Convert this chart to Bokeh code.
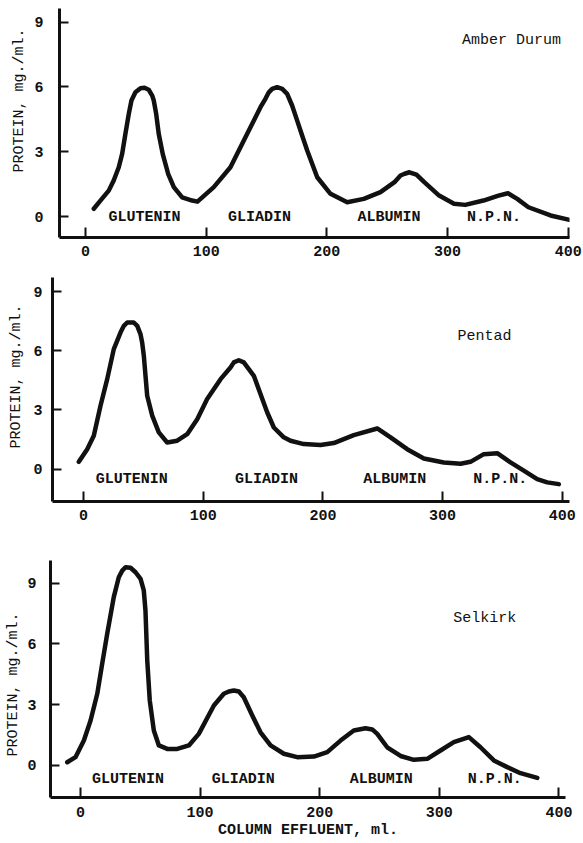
from bokeh.plotting import figure
from bokeh.layouts import column
from bokeh.models import FixedTicker, Range1d, Title
from bokeh.core.properties import value
from bokeh.embed import file_html
from bokeh.resources import INLINE

FONT = "Liberation Mono"

# ---- data ----
x_ticks = [0, 100, 200, 300, 400]
y_ticks = [0, 3, 6, 9]
fractions = ["GLUTENIN", "GLIADIN", "ALBUMIN", "N.P.N."]

amber_name = "Amber Durum"
amber_x = [6.9, 12.4, 19.3, 23.4, 27.6, 30.4, 33.1, 35.9, 38.1, 41.4, 45.6, 48.9, 52.4, 55.3,
           56.6, 58.6, 60.7, 64.0, 68.5, 73.2, 80.1, 88.4, 92.8,
           106.3, 120.1, 134.0, 145.0, 149.1, 151.9, 154.7, 158.8, 163.0, 167.1, 171.2, 175.4,
           179.5, 183.7, 192.0, 203.0, 216.8, 230.6, 244.4, 256.0, 261.0, 264.4, 268.4, 274.2,
           280.7, 293.0, 305.3, 314.6, 329.7, 342.2, 350.0, 357.7, 367.0, 385.3, 403.9]
amber_y = [0.36, 0.74, 1.20, 1.67, 2.28, 2.90, 3.83, 4.75, 5.37, 5.75, 5.94, 5.96, 5.87, 5.60,
           5.37, 4.75, 3.83, 2.90, 1.98, 1.36, 0.89, 0.74, 0.69,
           1.36, 2.28, 3.83, 5.06, 5.45, 5.75, 5.91, 5.99, 5.91, 5.68, 5.14, 4.44,
           3.75, 3.06, 1.82, 1.05, 0.66, 0.82, 1.13, 1.59, 1.90, 1.98, 2.05, 1.94,
           1.59, 0.97, 0.59, 0.54, 0.74, 0.97, 1.08, 0.82, 0.43, 0.05, -0.19]
amber_label_x = [48.9, 144.2, 251.4, 338.4]

pentad_name = "Pentad"
pentad_x = [-3.9, 3.1, 8.6, 14.2, 19.8, 25.3, 30.9, 33.7, 36.5, 42.0, 44.9, 47.6, 49.0, 50.4,
            53.2, 57.4, 62.9, 69.9, 78.3, 86.6, 95.0, 103.3, 114.5, 122.8, 125.6, 129.7, 133.9,
            138.1, 142.3, 146.4, 153.5, 159.0, 167.3, 172.9, 184.0, 198.0, 209.1, 225.8, 245.4,
            256.5, 270.4, 284.3, 301.0, 315.0, 323.3, 334.4, 345.6, 356.7, 367.8, 379.0, 387.4,
            397.1]
pentad_y = [0.37, 1.01, 1.69, 3.21, 4.56, 6.08, 6.92, 7.26, 7.43, 7.43, 7.26, 6.84, 6.42, 5.74,
            3.72, 2.71, 1.86, 1.35, 1.44, 1.77, 2.53, 3.55, 4.56, 5.15, 5.41, 5.52, 5.41,
            5.07, 4.73, 4.05, 2.87, 2.11, 1.61, 1.44, 1.27, 1.22, 1.32, 1.72, 2.06,
            1.61, 1.01, 0.54, 0.34, 0.27, 0.37, 0.76, 0.81, 0.34, -0.08, -0.51, -0.67,
            -0.76]
pentad_label_x = [40.4, 152.8, 260.0, 348.1]

selkirk_name = "Selkirk"
selkirk_x = [-11.1, -4.2, 2.8, 8.4, 14.0, 18.1, 22.3, 27.8, 32.0, 34.9, 37.6, 41.8, 46.0, 50.2,
             52.9, 54.3, 55.8, 57.9, 61.3, 65.5, 72.5, 80.9, 90.6, 98.9, 111.5, 119.8, 124.0,
             128.2, 132.4, 136.5, 143.6, 150.5, 158.9, 170.0, 181.2, 195.1, 206.3, 217.4, 228.5,
             238.3, 243.9, 248.1, 256.4, 267.6, 278.7, 289.9, 301.0, 312.1, 324.7, 334.4, 345.6,
             356.8, 367.9, 381.9]
selkirk_y = [0.16, 0.41, 1.23, 2.22, 3.54, 5.02, 6.50, 8.31, 9.29, 9.62, 9.79, 9.76, 9.54, 9.21,
             8.64, 7.65, 5.18, 3.21, 1.73, 0.99, 0.82, 0.82, 0.99, 1.56, 2.96, 3.54, 3.65,
             3.70, 3.65, 3.37, 2.47, 1.64, 0.99, 0.58, 0.41, 0.44, 0.66, 1.23, 1.73,
             1.84, 1.78, 1.56, 0.90, 0.47, 0.28, 0.33, 0.74, 1.15, 1.40, 0.90, 0.25,
             -0.08, -0.38, -0.61]
selkirk_label_x = [39.7, 136.1, 251.4, 346.3]

y_title = "PROTEIN, mg./ml."
x_title = "COLUMN EFFLUENT, ml."

# ---- layout / style settings (not data) ----
panels = [
    dict(name=amber_name, x=amber_x, y=amber_y, lx=amber_label_x, ly=-0.05,
         nx=353, ny=8.15, h=266, bt=8, bl=59, br=14, bb=29,
         xr=(-21.5, 401), yr=(-0.97, 9.63), lso=16, tso=8, toff=20, xlso=8, xlabel=False),
    dict(name=pentad_name, x=pentad_x, y=pentad_y, lx=pentad_label_x, ly=-0.52,
         nx=335, ny=6.72, h=264, bt=11, bl=52, br=14, bb=29,
         xr=(-25.9, 406), yr=(-1.64, 9.71), lso=10, tso=11, toff=27, xlso=8, xlabel=False),
    dict(name=selkirk_name, x=selkirk_x, y=selkirk_y, lx=selkirk_label_x, ly=-0.67,
         nx=338, ny=7.24, h=313, bt=30, bl=50, br=18, bb=46,
         xr=(-25.1, 405.5), yr=(-1.58, 10.12), lso=14, tso=5, toff=52, xlso=9, xlabel=True),
]

figs = []
for c in panels:
    p = figure(width=583, height=c["h"], output_backend="svg", toolbar_location=None,
               x_range=Range1d(*c["xr"]), y_range=Range1d(*c["yr"]),
               min_border_top=c["bt"], min_border_left=c["bl"],
               min_border_right=c["br"], min_border_bottom=c["bb"])
    try:
        p.frame_align = False
    except AttributeError:
        pass
    p.outline_line_color = None
    p.grid.visible = False
    p.background_fill_color = "white"
    p.border_fill_color = "white"

    p.line(c["x"], c["y"], line_color="#111111", line_width=4.5,
           line_join="round", line_cap="round")

    p.text(c["lx"], [c["ly"]] * len(c["lx"]), text=fractions,
           text_font=value(FONT), text_font_size="15px", text_font_style="bold",
           text_align="center", text_baseline="middle", text_color="#111111")
    p.text([c["nx"]], [c["ny"]], text=[c["name"]],
           text_font=value(FONT), text_font_size="15px", text_font_style="normal",
           text_align="center", text_baseline="middle", text_color="#111111")

    for ax in (p.xaxis[0], p.yaxis[0]):
        ax.axis_line_color = "#111111"
        ax.axis_line_width = 3
        ax.major_tick_line_color = "#111111"
        ax.major_tick_line_width = 2
        ax.major_tick_out = 0
        ax.minor_tick_line_color = None
        ax.major_label_text_font = FONT
        ax.major_label_text_font_size = "15px"
        ax.major_label_text_font_style = "bold"
        ax.major_label_text_color = "#111111"
        ax.axis_label_text_font = FONT
        ax.axis_label_text_font_size = "15px"
        ax.axis_label_text_color = "#111111"

    p.xaxis.ticker = FixedTicker(ticks=x_ticks)
    p.yaxis.ticker = FixedTicker(ticks=y_ticks)
    p.xaxis.major_tick_in = 10
    p.yaxis.major_tick_in = 9
    p.xaxis.major_label_standoff = c["xlso"]
    p.yaxis.major_label_standoff = c["lso"]

    # vertical axis title placed like the original (not centred on the frame)
    p.add_layout(Title(text=y_title, align="right", offset=c["toff"], standoff=c["tso"],
                       text_font=FONT, text_font_size="15px", text_font_style="normal",
                       text_color="#111111"), "left")
    if c["xlabel"]:
        p.xaxis.axis_label = x_title
        p.xaxis.axis_label_standoff = 2
        p.xaxis.axis_label_text_font_style = "bold"
    figs.append(p)

layout = column(*figs, spacing=0)
open("out.html", "w").write(file_html(layout, INLINE))
